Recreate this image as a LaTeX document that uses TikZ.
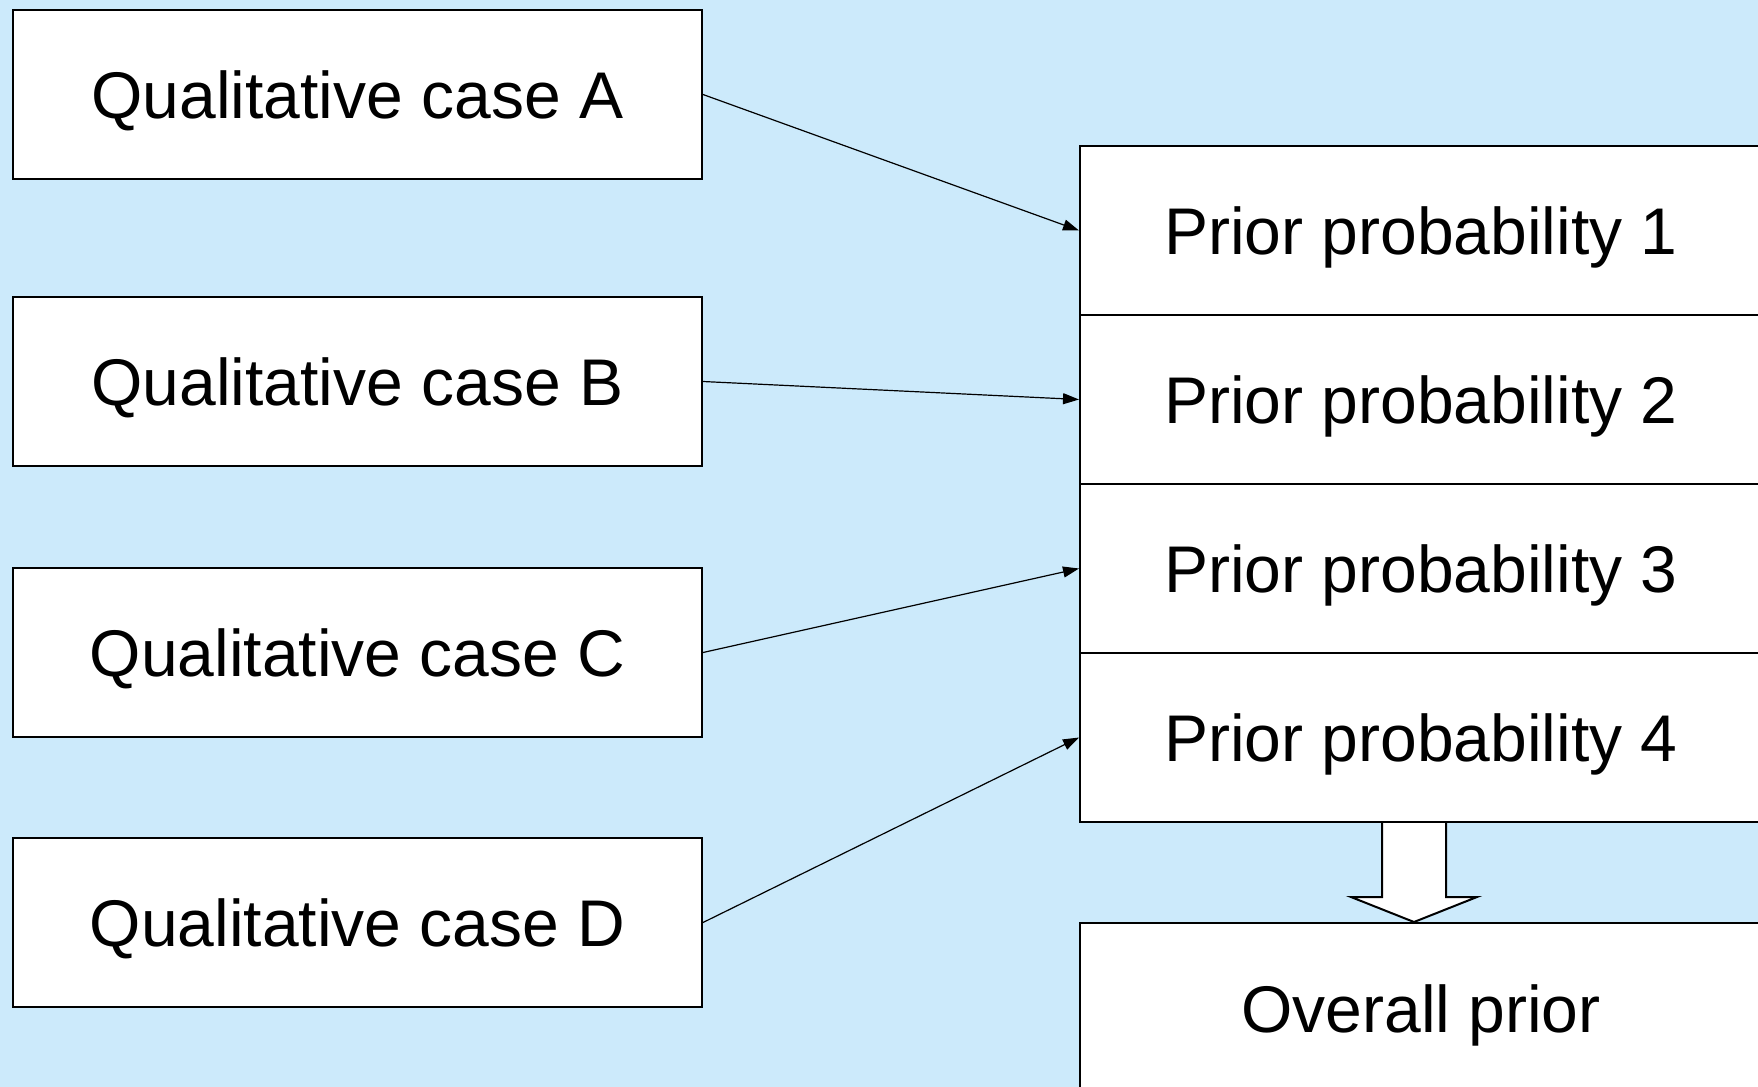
\documentclass[tikz,border=0pt]{standalone}
\usepackage{fontspec}
\setmainfont{Liberation Sans}
\usetikzlibrary{arrows.meta,calc}
\definecolor{bgblue}{RGB}{204,234,251}
\tikzset{
  labeltext/.style={font=\fontsize{33}{40}\selectfont, text height=24pt, text depth=0.4pt},
  casebox/.style={labeltext, draw=black, fill=white, line width=1pt, inner sep=0pt,
    minimum width=344.5pt, minimum height=84.5pt},
  priorbox/.style={labeltext, draw=black, fill=white, line width=1pt, inner sep=0pt,
    minimum width=341pt, minimum height=84.5pt},
  link/.style={line width=0.6pt, -{Triangle[length=8pt,width=5.5pt]}},
  blockarrow/.style={draw=black, fill=white, line width=1pt, line join=miter}
}
\begin{document}
\begin{tikzpicture}[x=0.5pt, y=-0.5pt]
  \useasboundingbox (0,0) rectangle (1758,1087);
  \clip (0,0) rectangle (1758,1087);
  \fill[bgblue] (0,0) rectangle (1758,1087);

  % qualitative cases
  \node[casebox] (qa) at (357.5,94.5)  {Qualitative case A};
  \node[casebox] (qb) at (357.5,381.5) {Qualitative case B};
  \node[casebox] (qc) at (357.5,652.5) {Qualitative case C};
  \node[casebox] (qd) at (357.5,922.5) {Qualitative case D};

  % stacked prior probabilities
  \node[priorbox] (p1) at (1421,230.5) {Prior probability 1};
  \node[priorbox] (p2) at (1421,399.5) {Prior probability 2};
  \node[priorbox] (p3) at (1421,568.5) {Prior probability 3};
  \node[priorbox] (p4) at (1421,737.5) {Prior probability 4};

  % combined result
  \node[priorbox, minimum height=86pt] (ov) at (1421,1009) {Overall prior};

  % links from cases to priors
  \draw[link] (qa.east) -- (p1.west);
  \draw[link] (qb.east) -- (p2.west);
  \draw[link] (qc.east) -- (p3.west);
  \draw[link] (qd.east) -- (p4.west);

  % block arrow from the priors to the overall prior
  \coordinate (btop) at ($(p4.south)+(-7,0)$);
  \coordinate (btip) at ($(ov.north)+(-7,0)$);
  \draw[blockarrow] ($(btop)+(-32,0)$) -- ($(btip)+(-32,-25)$) -- ($(btip)+(-63,-25)$)
    -- (btip) -- ($(btip)+(63,-25)$) -- ($(btip)+(32,-25)$) -- ($(btop)+(32,0)$);
\end{tikzpicture}
\end{document}
